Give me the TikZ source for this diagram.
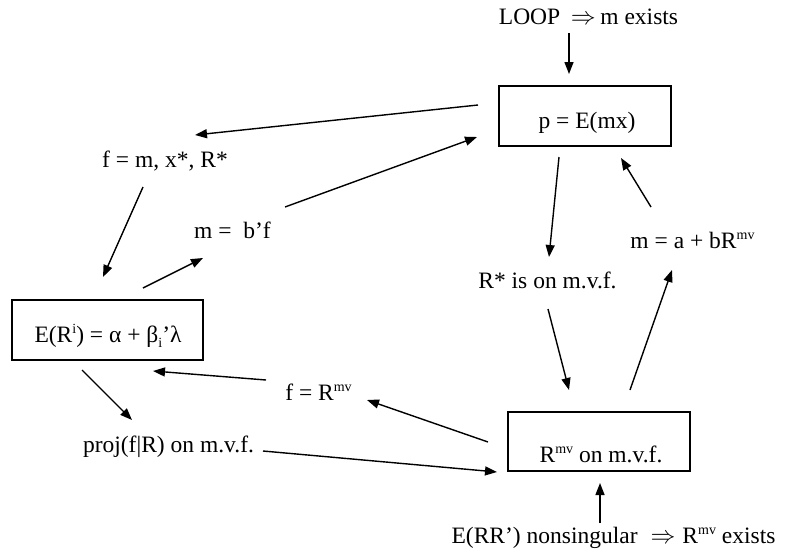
\documentclass[tikz,border=0pt]{standalone}
\usepackage{fontspec}
\setmainfont{Liberation Serif}
\usetikzlibrary{arrows.meta,calc}
\newcommand\supx[1]{\raisebox{8.5pt}{\fontsize{14}{14}\selectfont #1}}
\newcommand\subx[1]{\raisebox{-5pt}{\fontsize{14}{14}\selectfont #1}}
\tikzset{
  lbl/.style={font=\fontsize{23.5}{28}\selectfont, inner sep=0pt, anchor=base},
  boxnode/.style={draw, line width=1.3pt, font=\fontsize{23.5}{28}\selectfont, inner sep=0pt},
  arr/.style={line width=1.4pt, -{Triangle[length=12pt,width=9pt]}}
}
\begin{document}
\begin{tikzpicture}[x=1pt,y=-1pt]
\useasboundingbox (0,0) rectangle (785,552);
% nodes
\node[lbl] (loop) at (588.5,24) {LOOP\hspace{0.45em}$\Rightarrow$\hspace{0.2em}m exists};
\node[boxnode, minimum width=172pt, minimum height=60pt] (pbox) at (585,116)
  {\hspace{4pt}\raisebox{-12pt}[0pt][0pt]{p = E(mx)}};
\node[lbl] (fnode) at (165,167) {f = m, x*, R*};
\node[lbl] (mb) at (232.5,238) {m =\ \ b’f};
\node[boxnode, minimum width=191pt, minimum height=60pt] (ebox) at (107.5,330)
  {\hspace{1pt}\raisebox{-12pt}[0pt][0pt]{E(R\supx{i}) = α + β\subx{i}’λ}};
\node[lbl] (proj) at (168.5,452) {proj(f|R) on m.v.f.};
\node[lbl] (fR) at (318.5,400) {f = R\supx{mv}};
\node[lbl] (Rstar) at (547.5,288) {R* is on m.v.f.};
\node[lbl] (mab) at (692.5,248) {m = a + bR\supx{mv}};
\node[boxnode, minimum width=182pt, minimum height=59pt] (rbox) at (599,441.5)
  {\hspace{4pt}\raisebox{-20.5pt}[0pt][0pt]{R\supx{mv} on m.v.f.}};
\node[lbl] (err) at (613.5,543) {E(RR’) nonsingular\hspace{0.55em}$\Rightarrow$\hspace{0.3em}R\supx{mv} exists};
% connectors
\draw[arr] ($(loop.base)+(-19.5,9)$) -- ($(pbox)+(-16,-42)$);
\draw[arr] ($(pbox)+(-107,-11)$) -- ($(fnode.base)+(30,-32)$);
\draw[arr] ($(fnode.base)+(-22,20)$) -- ($(ebox)+(-4.5,-53)$);
\draw[arr] ($(ebox)+(35.5,-42)$) -- ($(mb.base)+(-29.5,20)$);
\draw[arr] ($(mb.base)+(52.5,-31)$) -- ($(pbox)+(-108,21)$);
\draw[arr] ($(ebox)+(-25.5,40)$) -- ($(proj.base)+(-36.5,-32)$);
\draw[arr] ($(fR.base)+(-52.5,-20)$) -- ($(ebox)+(45.5,41)$);
\draw[arr] ($(rbox)+(-111,0.5)$) -- ($(fR.base)+(48.5,0)$);
\draw[arr] ($(proj.base)+(94.5,-1)$) -- ($(rbox)+(-102,30.5)$);
\draw[arr] ($(pbox)+(-26,41)$) -- ($(Rstar.base)+(1.5,-31)$);
\draw[arr] ($(Rstar.base)+(0.5,21)$) -- ($(rbox)+(-30,-51.5)$);
\draw[arr] ($(rbox)+(31,-51.5)$) -- ($(mab.base)+(-20.5,22)$);
\draw[arr] ($(mab.base)+(-41.5,-41)$) -- ($(pbox)+(36,42)$);
\draw[arr] ($(err.base)+(-13.5,-20)$) -- ($(rbox)+(1,41.5)$);
\end{tikzpicture}
\end{document}
